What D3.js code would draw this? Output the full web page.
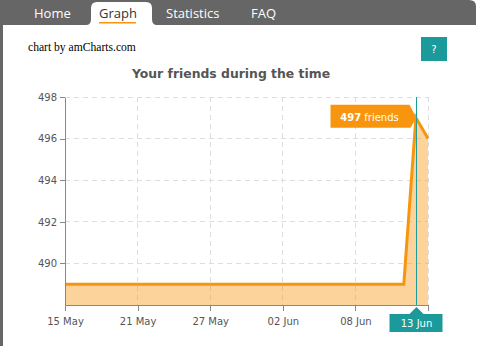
<!DOCTYPE html>
<html>
<head>
<meta charset="utf-8">
<script src="https://cdn.jsdelivr.net/npm/d3@7"></script>
<style>
  body { margin: 0; background: #fff; }
  svg { display: block; }
</style>
</head>
<body>
<div id="wrap"></div>
<script>
const width = 477;
const height = 346;
const margin = {top: 97, bottom: 41, left: 65, right: 49};

// data: one value per day
const days = [
  "2013-05-15", "2013-05-16", "2013-05-17", "2013-05-18", "2013-05-19", "2013-05-20",
  "2013-05-21", "2013-05-22", "2013-05-23", "2013-05-24", "2013-05-25", "2013-05-26",
  "2013-05-27", "2013-05-28", "2013-05-29", "2013-05-30", "2013-05-31", "2013-06-01",
  "2013-06-02", "2013-06-03", "2013-06-04", "2013-06-05", "2013-06-06", "2013-06-07",
  "2013-06-08", "2013-06-09", "2013-06-10", "2013-06-11", "2013-06-12", "2013-06-13",
  "2013-06-14"
];
const friends = [
  489, 489, 489, 489, 489, 489,
  489, 489, 489, 489, 489, 489,
  489, 489, 489, 489, 489, 489,
  489, 489, 489, 489, 489, 489,
  489, 489, 489, 489, 489, 497,
  496
];
const xTicks = ["2013-05-15", "2013-05-21", "2013-05-27", "2013-06-02", "2013-06-08"];
const yTicks = [490, 492, 494, 496, 498];
const navItems = ["Home", "Graph", "Statistics", "FAQ"];
const cursorDay = "2013-06-13";

const parse = d3.timeParse("%Y-%m-%d");
const data = days.map((d, i) => ({date: parse(d), value: friends[i]}));

const orange = "#f7950f";
const teal = "#1a9a9a";

const svg = d3.select("#wrap")
  .append("svg")
  .attr("width", width)
  .attr("height", height);

// page frame + nav bar
svg.append("rect").attr("x", 0).attr("y", 0).attr("width", 3).attr("height", height).attr("fill", "#666");
svg.append("path")
  .attr("d", "M0,0 H469 Q476,0 476,6 V25 H0 Z")
  .attr("fill", "#666");
svg.append("path")
  .attr("d", "M86,25 Q91,25 91,19 V8 Q91,2 97,2 H146 Q152,2 152,8 V19 Q152,25 157,25 Z")
  .attr("fill", "#fff");

const navX = [34, 99, 166, 251];
svg.append("g")
  .selectAll("text")
  .data(navItems)
  .enter()
  .append("text")
    .attr("x", (d, i) => navX[i])
    .attr("y", 18)
    .attr("font-family", "Open Sans")
    .attr("font-size", "13px")
    .attr("fill", d => d === "Graph" ? "#333" : "#fff")
    .text(d => d);
svg.append("rect").attr("x", 99).attr("y", 22).attr("width", 37).attr("height", 1.5).attr("fill", orange);

// credit + help button
svg.append("text")
  .attr("x", 28).attr("y", 51)
  .attr("font-family", "Liberation Serif")
  .attr("font-size", "11.6px")
  .attr("fill", "#000")
  .text("chart by amCharts.com");
svg.append("rect").attr("x", 421).attr("y", 37).attr("width", 26).attr("height", 24).attr("fill", teal);
svg.append("text")
  .attr("x", 434).attr("y", 53)
  .attr("text-anchor", "middle")
  .attr("font-family", "DejaVu Sans")
  .attr("font-size", "10px")
  .attr("fill", "#fff")
  .text("?");

// title
svg.append("text")
  .attr("x", 231).attr("y", 78)
  .attr("text-anchor", "middle")
  .attr("font-family", "DejaVu Sans")
  .attr("font-weight", "bold")
  .attr("font-size", "12.4px")
  .attr("fill", "#555")
  .text("Your friends during the time");

const x = d3.scaleTime()
  .domain(d3.extent(data, d => d.date))
  .range([margin.left, width - margin.right]);

const y = d3.scaleLinear()
  .domain([488, 498])
  .range([height - margin.bottom, margin.top]);

// grid
const grid = svg.append("g")
  .attr("stroke", "#dedede")
  .attr("stroke-dasharray", "5,4")
  .attr("shape-rendering", "crispEdges");
grid.selectAll(".h")
  .data(yTicks)
  .enter()
  .append("line")
    .attr("x1", margin.left).attr("x2", width - margin.right)
    .attr("y1", d => y(d)).attr("y2", d => y(d));
grid.selectAll(".v")
  .data(xTicks.map(parse).concat([x.domain()[1]]))
  .enter()
  .append("line")
    .attr("x1", d => x(d)).attr("x2", d => x(d))
    .attr("y1", margin.top).attr("y2", height - margin.bottom);

// area + line
const area = d3.area()
  .x(d => x(d.date))
  .y0(y(488))
  .y1(d => y(d.value));
const line = d3.line()
  .x(d => x(d.date))
  .y(d => y(d.value));

svg.append("path")
  .datum(data)
  .attr("d", area)
  .attr("fill", orange)
  .attr("fill-opacity", 0.42);
svg.append("path")
  .datum(data)
  .attr("d", line)
  .attr("fill", "none")
  .attr("stroke", orange)
  .attr("stroke-width", 3);

// axes
function xAxis(g){
  g.attr("transform", `translate(0, ${height - margin.bottom})`)
    .call(d3.axisBottom(x)
      .tickValues(xTicks.map(parse))
      .tickFormat(d3.timeFormat("%d %b"))
      .tickSize(6)
      .tickSizeOuter(6)
      .tickPadding(7));
}
function yAxis(g){
  g.attr("transform", `translate(${margin.left}, 0)`)
    .call(d3.axisLeft(y)
      .tickValues(yTicks)
      .tickSize(5)
      .tickSizeOuter(0)
      .tickPadding(3));
}
[svg.append("g").call(xAxis), svg.append("g").call(yAxis)].forEach(g => {
  g.selectAll("path, line").attr("stroke", "#888").attr("shape-rendering", "crispEdges");
  g.selectAll("text")
    .attr("fill", "#555")
    .attr("font-family", "DejaVu Sans")
    .attr("font-size", "10px");
});

// cursor
const cd = parse(cursorDay);
const cx = Math.round(x(cd)) + 0.5;
const cv = friends[days.indexOf(cursorDay)];
const cy = y(cv);
svg.append("line")
  .attr("x1", cx).attr("x2", cx)
  .attr("y1", margin.top).attr("y2", height - margin.bottom)
  .attr("stroke", teal)
  .attr("stroke-width", 1);

// category balloon
const by = height - margin.bottom;
svg.append("path")
  .attr("d", `M${cx - 27},${by + 9} H${cx - 7} L${cx},${by + 2} L${cx + 7},${by + 9} H${cx + 26} V${by + 27} H${cx - 27} Z`)
  .attr("fill", teal);
svg.append("text")
  .attr("x", cx).attr("y", by + 22)
  .attr("text-anchor", "middle")
  .attr("font-family", "DejaVu Sans")
  .attr("font-size", "10px")
  .attr("fill", "#fff")
  .text(d3.timeFormat("%d %b")(cd));

// value balloon
svg.append("path")
  .attr("d", `M${cx - 86},${cy - 13} H${cx - 7} L${cx},${cy} L${cx - 6},${cy + 10} H${cx - 86} Z`)
  .attr("fill", orange);
const bt = svg.append("text")
  .attr("x", cx - 47).attr("y", cy + 3)
  .attr("text-anchor", "middle")
  .attr("font-family", "DejaVu Sans")
  .attr("font-size", "10px")
  .attr("fill", "#fff");
bt.append("tspan").attr("font-weight", "bold").text(cv);
bt.append("tspan").text(" friends");
</script>
</body>
</html>
